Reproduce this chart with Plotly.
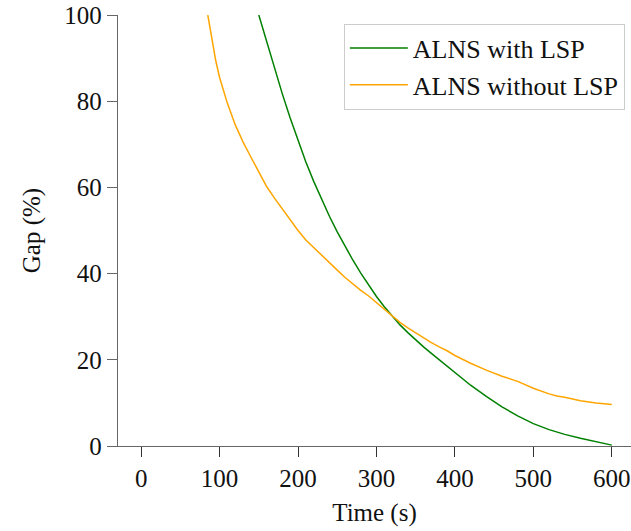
import plotly.graph_objects as go

time_with = [150, 160, 170, 180, 190, 200, 210, 220, 230, 240, 250, 260, 270, 280, 290, 300,
             310, 320, 330, 340, 350, 360, 370, 380, 390, 400, 420, 440, 460, 480, 500, 520,
             540, 560, 580, 600]
gap_with = [100, 93.7, 87.6, 81.7, 76.1, 70.8, 65.9, 61.4, 57.2, 53.3, 49.7, 46.3, 43.1, 40.1, 37.3, 34.7,
            32.3, 30.1, 28.1, 26.3, 24.6, 23.0, 21.5, 20.0, 18.5, 17.0, 14.1, 11.5, 9.1, 7.0, 5.2, 3.8,
            2.7, 1.8, 1.0, 0.2]

time_without = [85, 90, 95, 100, 105, 110, 120, 130, 140, 150, 160, 170, 180, 190, 200, 210,
                220, 230, 240, 250, 260, 270, 280, 290, 300, 310, 320, 330, 340, 350, 360, 370,
                380, 390, 400, 420, 440, 460, 480, 500, 520, 530, 540, 560, 580, 600]
gap_without = [100, 94.5, 89.5, 85.5, 82.5, 79.5, 74.5, 70.5, 67, 63.5, 60.2, 57.5, 55, 52.5, 50, 47.8,
               46.0, 44.2, 42.5, 40.8, 39.1, 37.5, 36.1, 34.8, 33.3, 31.6, 30.1, 28.7, 27.4, 26.2, 25.0, 24.0,
               23.0, 22.1, 21.0, 19.2, 17.6, 16.2, 15.0, 13.4, 12.1, 11.6, 11.3, 10.5, 10.0, 9.6]

x_ticks = [0, 100, 200, 300, 400, 500, 600]
y_ticks = [0, 20, 40, 60, 80, 100]

FONT = "Liberation Serif, serif"
FS = 25

fig = go.Figure()
fig.add_trace(go.Scatter(x=time_with, y=gap_with, mode="lines", name="ALNS with LSP",
                         line=dict(color="#008000", width=1.5)))
fig.add_trace(go.Scatter(x=time_without, y=gap_without, mode="lines", name="ALNS without LSP",
                         line=dict(color="#FFA500", width=1.5)))

fig.update_layout(
    width=631, height=531,
    margin=dict(l=118, r=0, t=15, b=85),
    paper_bgcolor="white", plot_bgcolor="white",
    font=dict(family=FONT, size=FS, color="#111111"),
    showlegend=True,
    legend=dict(x=0.988, y=0.98, xanchor="right", yanchor="top",
                bordercolor="#cccccc", borderwidth=1, bgcolor="white",
                font=dict(family=FONT, size=26), tracegroupgap=0, itemwidth=58),
    xaxis=dict(range=[-29.5, 624.5], tickvals=x_ticks, ticks="outside", ticklen=10,
               tickcolor="#333333", tickwidth=1, showline=True, linecolor="#666666", linewidth=1.3,
               showgrid=False, zeroline=False,
               tickfont=dict(family=FONT, size=FS),
               title=dict(text="Time (s)", standoff=12, font=dict(family=FONT, size=FS))),
    yaxis=dict(range=[0, 100], tickvals=y_ticks, ticks="outside", ticklen=10,
               tickcolor="#666666", tickwidth=1, showline=True, linecolor="#666666", linewidth=1.3,
               showgrid=False, zeroline=False,
               tickfont=dict(family=FONT, size=FS),
               title=dict(text="Gap (%)", standoff=16, font=dict(family=FONT, size=FS))),
)

fig.write_html("out.html")
